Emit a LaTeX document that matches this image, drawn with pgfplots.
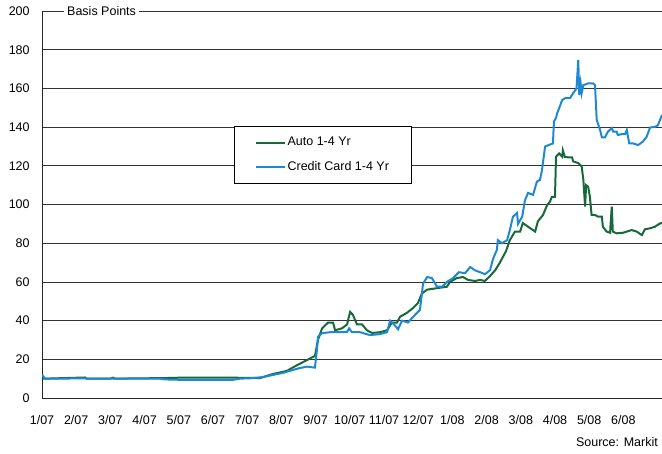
\documentclass[border=0pt]{standalone}
\usepackage{fontspec}
\setmainfont{Liberation Sans}
\usepackage{pgfplots}
\pgfplotsset{compat=1.18}
\usetikzlibrary{calc}
\definecolor{autogreen}{RGB}{24,105,58}
\definecolor{ccblue}{RGB}{30,136,210}
\newcommand{\chartfont}{\fontsize{12.5bp}{15bp}\selectfont}

\begin{document}
\chartfont
\begin{tikzpicture}
\begin{axis}[
  name=ax,
  scale only axis,
  width=620bp, height=387bp,
  xmin=0, xmax=18.129, ymin=0, ymax=200,
  axis x line*=bottom, axis y line*=left,
  axis line style={black!85, line width=0.8bp, -},
  xtick={0,...,17},
  xticklabels={1/07,2/07,3/07,4/07,5/07,6/07,7/07,8/07,9/07,10/07,11/07,12/07,1/08,2/08,3/08,4/08,5/08,6/08},
  ytick={0,20,...,200},
  major tick length=0pt,
  ymajorgrids,
  major grid style={black!80, line width=0.8bp},
  tick label style={font=\chartfont},
  /pgf/number format/assume math mode=true,
  yticklabel style={xshift=-8bp},
  xticklabel style={yshift=-13bp},
  clip mode=individual,
  legend style={at={(0.31,0.703)}, anchor=north west, draw=black, line width=0.8bp,
    fill=white, font=\chartfont, inner xsep=20bp, inner ysep=9bp, row sep=10bp},
  legend cell align=left,
  legend image code/.code={\draw[#1, line width=2bp] (0bp,0bp) -- (29bp,0bp);},
]
% Auto 1-4 Yr
\addplot[draw=autogreen, line width=2bp] coordinates {
(0,10) (0.09,10) (1.26,10.6) (1.30,10) (2.00,10) (2.08,10.5) (2.12,10)
(3.60,10.3) (4.04,10.5) (5.59,10.5) (6.37,10.3) (6.75,12.4) (7.16,14)
(7.46,17) (7.75,19.6) (7.90,21) (7.98,21.7) (8.07,30) (8.19,36) (8.36,38.9)
(8.51,39) (8.57,35) (8.77,36) (8.92,38) (9.01,44.5) (9.09,43) (9.21,38)
(9.36,38) (9.50,35) (9.65,33.6) (9.88,34) (10.09,35) (10.23,39) (10.38,39)
(10.47,42) (10.67,44) (10.85,46.5) (10.99,49) (11.11,54) (11.26,56)
(11.64,57) (11.84,57.5) (11.93,60) (12.13,62) (12.31,62.5) (12.46,61)
(12.66,60.5) (12.81,61) (12.95,60.5) (13.10,63) (13.25,66) (13.39,70)
(13.57,76) (13.68,81.6) (13.83,86) (13.98,86) (14.06,90.4) (14.42,86)
(14.50,91.3) (14.65,94.6) (14.77,99.7) (14.85,101.4) (14.91,104) (15.00,104)
(15.03,124.7) (15.12,126.4) (15.21,124.7) (15.23,128) (15.29,124.5)
(15.38,124.4) (15.50,124.4) (15.53,122.3) (15.68,121.4) (15.78,119.7)
(15.83,112.7) (15.88,98.9) (15.91,110) (15.97,109.2) (16.02,104) (16.07,94.6)
(16.17,94.6) (16.26,93.7) (16.37,93.7) (16.40,88.5) (16.51,86) (16.61,85.4)
(16.66,98.9) (16.69,86) (16.80,85.1) (16.99,85.4) (17.10,86) (17.24,86.8)
(17.39,86) (17.54,84.2) (17.63,87.2) (17.78,87.7) (17.92,88.5) (18.07,90.2)
(18.13,90.5)
};
\addlegendentry{Auto 1-4 Yr}
% Credit Card 1-4 Yr
\addplot[draw=ccblue, line width=2bp] coordinates {
(0,12) (0.09,10) (0.53,10) (1.26,10.2) (1.35,10) (2.00,10) (3.45,10)
(3.60,9.6) (4.04,9.4) (5.59,9.4) (5.79,10) (6.08,10.2) (6.46,10.8)
(6.75,11.9) (7.05,13) (7.34,14.5) (7.54,15.5) (7.75,16.2) (7.98,15.7)
(8.04,25) (8.07,31.7) (8.19,33.5) (8.42,34) (8.71,34) (8.92,34.2) (8.98,36)
(9.06,34) (9.30,34) (9.59,32.5) (9.88,33) (10.09,34) (10.18,40) (10.32,37.5)
(10.41,35.5) (10.53,40) (10.70,39) (10.91,43) (11.05,45.5) (11.11,54)
(11.14,59) (11.26,62.5) (11.40,62) (11.55,57.5) (11.70,57.5) (11.84,60)
(12.02,62) (12.19,65) (12.37,64.5) (12.52,67.7) (12.66,66) (12.81,65)
(12.95,64) (13.10,66) (13.19,72) (13.30,76.5) (13.33,81.6) (13.45,80)
(13.60,81.6) (13.68,86.8) (13.77,93.7) (13.89,95.6) (13.92,90) (14.04,93.7)
(14.12,102) (14.21,106) (14.36,105) (14.47,111.8) (14.56,112.7) (14.62,117.8)
(14.71,129.9) (14.85,131) (14.94,131.5) (14.97,143) (15.03,144.7) (15.06,147)
(15.12,149.7) (15.21,154) (15.29,154.9) (15.44,155) (15.53,157.5)
(15.63,160.1) (15.68,174.7) (15.71,156.6) (15.75,162.6) (15.78,157.5)
(15.83,161.7) (15.97,162.6) (16.11,162.6) (16.17,161.7) (16.22,143.7)
(16.32,138.5) (16.37,134.7) (16.46,134.7) (16.55,137.7) (16.66,139.5)
(16.70,137.7) (16.80,137.7) (16.84,135.9) (16.95,136.4) (17.05,136.4)
(17.10,138.5) (17.17,131.6) (17.28,131.6) (17.43,130.7) (17.57,132.5)
(17.68,135) (17.78,139.8) (17.92,140.1) (18.01,141) (18.13,146.3)
};
\addlegendentry{Credit Card 1-4 Yr}
\end{axis}
\node[fill=white, inner xsep=3bp, inner ysep=1bp, anchor=west] at ($(ax.north west)+(22bp,0)$) {Basis Points};
\node[anchor=base east, inner sep=0pt] at ($(ax.south east)+(-4bp,-48bp)$) {Source: Markit};
\pgfresetboundingbox
\path ($(ax.south west)+(-42bp,-56bp)$) rectangle ($(ax.north east)+(0,11bp)$);
\end{tikzpicture}
\end{document}
